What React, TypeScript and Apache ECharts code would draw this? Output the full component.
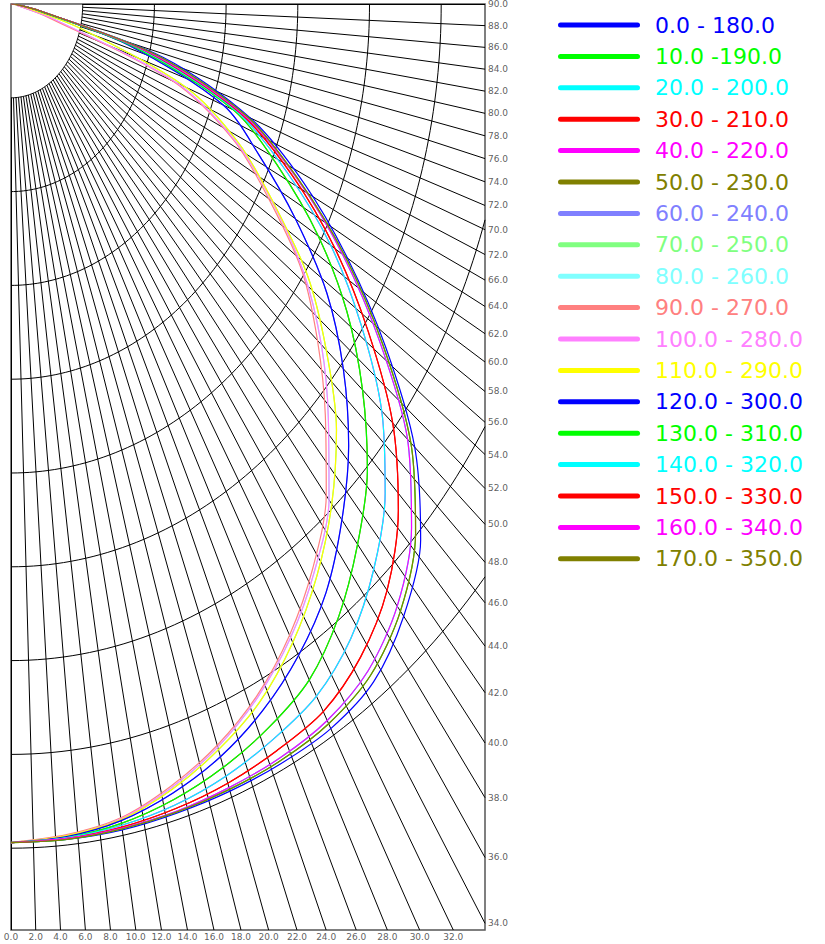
import React, { useEffect, useRef } from "react";
import * as echarts from "echarts";

// gamma angles (deg) at which intensities were read
const gammas = [0, 5, 10, 15, 20, 25, 30, 35, 40, 45, 50, 55, 60, 65, 70, 75, 80, 85, 90];

// relative intensity (ring units) per C-plane
const c0 = [8.94, 8.94, 8.94, 8.93, 8.93, 8.93, 8.92, 8.82, 8.52, 8.08, 7.35, 6.38, 5.42, 4.5, 3.55, 2.2, 0.4, 0.1, 0];
const c170 = [8.94, 8.94, 8.93, 8.92, 8.91, 8.9, 8.86, 8.74, 8.45, 7.98, 7.28, 6.33, 5.38, 4.42, 3.5, 2.1, 0.4, 0.1, 0];
const c160 = [8.94, 8.93, 8.92, 8.91, 8.89, 8.87, 8.82, 8.68, 8.38, 7.9, 7.22, 6.28, 5.34, 4.4, 3.45, 2.0, 0.4, 0.1, 0];
const c150 = [8.94, 8.93, 8.91, 8.88, 8.84, 8.78, 8.71, 8.5, 8.16, 7.64, 6.95, 6.08, 5.22, 4.33, 3.4, 1.95, 0.4, 0.1, 0];
const c140 = [8.94, 8.92, 8.89, 8.84, 8.76, 8.65, 8.52, 8.26, 7.87, 7.38, 6.75, 5.96, 5.15, 4.25, 3.35, 1.9, 0.4, 0.1, 0];
const c130 = [8.94, 8.92, 8.87, 8.78, 8.66, 8.51, 8.32, 7.97, 7.52, 7.03, 6.4, 5.72, 4.95, 4.12, 3.3, 1.8, 0.35, 0.1, 0];
const c120 = [8.94, 8.91, 8.84, 8.71, 8.54, 8.31, 8.02, 7.66, 7.18, 6.66, 6.05, 5.38, 4.58, 3.82, 3.15, 1.7, 0.35, 0.1, 0];
const c110 = [8.94, 8.9, 8.83, 8.67, 8.46, 8.21, 7.86, 7.44, 6.96, 6.42, 5.74, 5.05, 4.22, 3.5, 2.6, 1.0, 0.2, 0.05, 0];
const c100 = [8.94, 8.9, 8.82, 8.65, 8.43, 8.15, 7.8, 7.38, 6.9, 6.26, 5.65, 4.98, 4.2, 3.45, 2.45, 0.6, 0.1, 0.05, 0];
const c90 = [8.94, 8.89, 8.81, 8.63, 8.41, 8.13, 7.77, 7.34, 6.84, 6.2, 5.58, 4.95, 4.15, 3.42, 2.4, 0.5, 0.1, 0.05, 0];
// mirrored planes lie under their counterparts
const c10 = c170;
const c20 = c160;
const c30 = c150;
const c40 = c140;
const c50 = c130;
const c60 = c120;
const c70 = c110;
const c80 = c100;

const planeValues = [c0, c10, c20, c30, c40, c50, c60, c70, c80, c90, c100, c110, c120, c130, c140, c150, c160, c170];
const planeLabels = [
  "0.0 - 180.0", "10.0 -190.0", "20.0 - 200.0", "30.0 - 210.0", "40.0 - 220.0", "50.0 - 230.0",
  "60.0 - 240.0", "70.0 - 250.0", "80.0 - 260.0", "90.0 - 270.0", "100.0 - 280.0", "110.0 - 290.0",
  "120.0 - 300.0", "130.0 - 310.0", "140.0 - 320.0", "150.0 - 330.0", "160.0 - 340.0", "170.0 - 350.0",
];
const planeColors = [
  "#0000ff", "#00ff00", "#00ffff", "#ff0000", "#ff00ff", "#808000",
  "#8080ff", "#80ff80", "#80ffff", "#ff8080", "#ff80ff", "#ffff00",
  "#0000ff", "#00ff00", "#00ffff", "#ff0000", "#ff00ff", "#808000",
];

// grid
const spokeAngles = Array.from({ length: 46 }, (_, i) => i * 2);
const ringRadii = [1, 2, 3, 4, 5, 6, 7, 8, 9];
const bottomAngles = [0, 2, 4, 6, 8, 10, 12, 14, 16, 18, 20, 22, 24, 26, 28, 30, 32];
const bottomLabels = ["0.0", "2.0", "4.0", "6.0", "8.0", "10.0", "12.0", "14.0", "16.0", "18.0", "20.0", "22.0", "24.0", "26.0", "28.0", "30.0", "32.0"];
const rightAngles = [34, 36, 38, 40, 42, 44, 46, 48, 50, 52, 54, 56, 58, 60, 62, 64, 66, 68, 70, 72, 74, 76, 78, 80, 82, 84, 86, 88, 90];
const rightLabels = ["34.0", "36.0", "38.0", "40.0", "42.0", "44.0", "46.0", "48.0", "50.0", "52.0", "54.0", "56.0", "58.0", "60.0", "62.0", "64.0", "66.0", "72.0", "70.0", "72.0", "74.0", "76.0", "78.0", "80.0", "82.0", "84.0", "86.0", "88.0", "90.0"];

const XMAX = 474 / 71.7;
const YMAX = 926 / 93.8;
const rad = (d: number) => (d * Math.PI) / 180;

function spokeEnd(g: number): [number, number] {
  const s = Math.sin(rad(g));
  const c = Math.cos(rad(g));
  const R = Math.min(s > 1e-9 ? XMAX / s : Infinity, c > 1e-9 ? YMAX / c : Infinity);
  return [R * s, R * c];
}

export default function App() {
  const ref = useRef<HTMLDivElement>(null);
  useEffect(() => {
    document.body.style.margin = "0";
    if (!ref.current) return;
    const chart = echarts.init(ref.current, undefined, { renderer: "svg" });

    const spokes = spokeAngles.map((g) => ({
      coords: [[Math.sin(rad(g)), Math.cos(rad(g))], spokeEnd(g)],
    }));
    const rings = ringRadii.map((r) => {
      const gMax = r > XMAX ? (Math.asin(XMAX / r) * 180) / Math.PI : 90;
      const pts: number[][] = [];
      for (let g = 0; g < gMax; g += 1) pts.push([r * Math.sin(rad(g)), r * Math.cos(rad(g))]);
      pts.push([r * Math.sin(rad(gMax)), r * Math.cos(rad(gMax))]);
      return { coords: pts };
    });

    const curveSeries = planeValues.map((vals, i) => ({
      type: "line",
      name: planeLabels[i],
      data: gammas.map((g, j) => [vals[j] * Math.sin(rad(g)), vals[j] * Math.cos(rad(g))]),
      symbol: "none",
      smooth: 0.3,
      color: planeColors[i],
      lineStyle: { color: planeColors[i], width: 1.2 },
      z: 3,
      silent: true,
    }));

    const font = "'DejaVu Sans', sans-serif";
    chart.setOption({
      animation: false,
      backgroundColor: "#ffffff",
      grid: { left: 11, top: 4, width: 474, height: 926, show: true, borderColor: "#555", borderWidth: 1.5, backgroundColor: "transparent" },
      xAxis: { type: "value", min: 0, max: XMAX, show: false },
      yAxis: { type: "value", min: 0, max: YMAX, inverse: true, show: false },
      legend: {
        orient: "vertical",
        left: 553,
        top: 9,
        itemWidth: 82,
        itemHeight: 5,
        itemGap: 9.4,
        icon: "path://M2.5,0L79.5,0A2.5,2.5,0,0,1,79.5,5L2.5,5A2.5,2.5,0,0,1,2.5,0Z",
        data: planeLabels.map((n, i) => ({ name: n, textStyle: { color: planeColors[i] } })),
        textStyle: { fontSize: 22, fontFamily: font, lineHeight: 22, padding: [0, 0, 0, 10] },
        selectedMode: false,
      },
      series: [
        {
          type: "lines",
          coordinateSystem: "cartesian2d",
          data: spokes,
          lineStyle: { color: "#000", width: 1, opacity: 1 },
          silent: true,
          z: 1,
        },
        {
          type: "lines",
          coordinateSystem: "cartesian2d",
          polyline: true,
          data: rings,
          lineStyle: { color: "#000", width: 1, opacity: 1 },
          silent: true,
          z: 1,
        },
        ...curveSeries,
        {
          type: "scatter",
          symbolSize: 0,
          clip: false,
          silent: true,
          data: rightAngles.map((g, i) => ({ value: spokeEnd(g), name: rightLabels[i] })),
          label: { show: true, position: "right", distance: 3, formatter: "{b}", fontSize: 9, fontFamily: font, color: "#333" },
          z: 4,
        },
        {
          type: "scatter",
          symbolSize: 0,
          clip: false,
          silent: true,
          data: bottomAngles.map((g, i) => ({ value: spokeEnd(g), name: bottomLabels[i] })),
          label: { show: true, position: "bottom", distance: 2, formatter: "{b}", fontSize: 9, fontFamily: font, color: "#333" },
          z: 4,
        },
      ],
    });
    return () => chart.dispose();
  }, []);
  return <div ref={ref} style={{ width: 825, height: 944 }} />;
}
